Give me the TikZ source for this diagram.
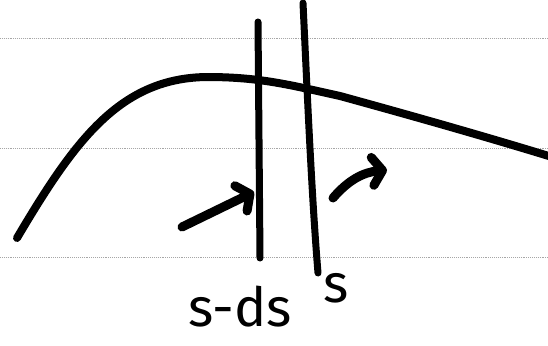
\documentclass[tikz,border=0pt]{standalone}
\usepackage{fontspec}
\setmainfont{Fira Sans}
\usetikzlibrary{arrows.meta}

\begin{document}
\begin{tikzpicture}[
    x=1pt,y=-1pt,
    ruled/.style={gray!70,line width=0.9pt,densely dotted},
    stroke/.style={line width=7pt,line cap=round,line join=round},
    curve/.style={line width=8pt,line cap=round},
    arrow/.style={line width=9pt,line cap=round,
        -{Straight Barb[length=10pt,width=28pt,round]}},
    label/.style={inner sep=0pt,font=\fontsize{54}{54}\selectfont}
]
\useasboundingbox (0,0) rectangle (548,345);
\draw[ruled] (0,38) -- (548,38);
\draw[ruled] (0,148) -- (548,148);
\draw[ruled] (0,257) -- (548,257);
\draw[curve] (17,238) .. controls (75,140) and (120,78) .. (207,77)
    .. controls (260,77) and (290,85) .. (340,96)
    .. controls (420,118) and (490,138) .. (552,157);
\draw[stroke] (258,22) -- (260,258);
\draw[stroke] (303,3) .. controls (308,110) and (312,200) .. (318,273);
\coordinate (in tail) at (182,227);
\coordinate (in tip) at (254,192);
\coordinate (out tail) at (333,198);
\coordinate (out tip) at (387,170);
\draw[arrow] (in tail) -- (in tip);
\draw[arrow] (out tail) to[bend left=22] (out tip);
\node[label,anchor=base] (sminus) at (240,326) {s-ds};
\node[label,anchor=base] (s) at (336,302) {s};
\end{tikzpicture}
\end{document}
